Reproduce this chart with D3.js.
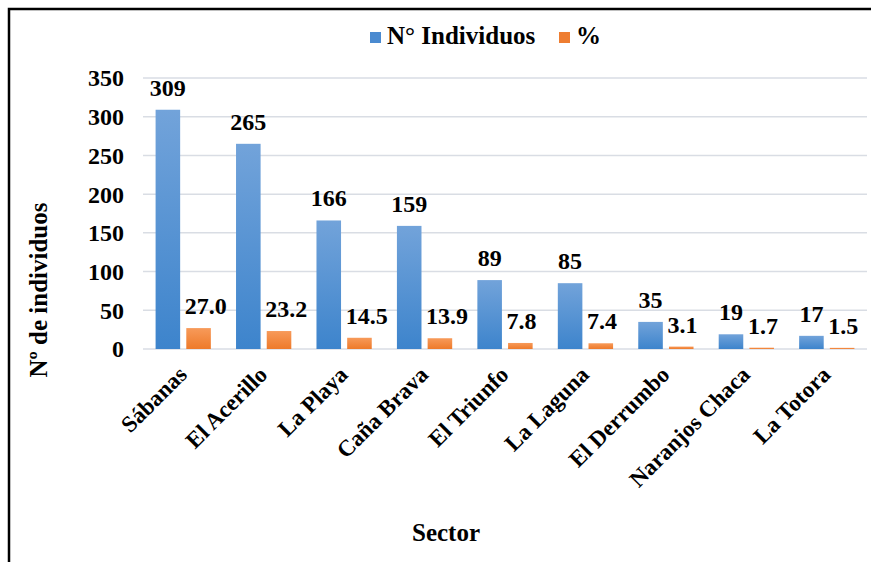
<!DOCTYPE html>
<html>
<head>
<meta charset="utf-8">
<script src="https://cdn.jsdelivr.net/npm/d3@7"></script>
<style>
    body { margin: 0; background: #fff; }
    text { font-family: "Liberation Serif", "Times New Roman", serif; font-weight: bold; fill: #000; }
</style>
</head>
<body>
<svg id="chart"></svg>
<script>
// Data
var sectors = ["Sábanas", "El Acerillo", "La Playa", "Caña Brava", "El Triunfo",
    "La Laguna", "El Derrumbo", "Naranjos Chaca", "La Totora"];
var individuos = [309, 265, 166, 159, 89, 85, 35, 19, 17];
var porcentaje = [27.0, 23.2, 14.5, 13.9, 7.8, 7.4, 3.1, 1.7, 1.5];
var yTicks = [0, 50, 100, 150, 200, 250, 300, 350];
var seriesNames = ["N° Individuos", "%"];

var width = 871,
    height = 562;

var svg = d3.select("#chart")
    .attr("width", width)
    .attr("height", height);

// Gradients for the bars
var defs = svg.append("defs");
function addGradient(id, top, bottom) {
    var g = defs.append("linearGradient")
        .attr("id", id)
        .attr("x1", 0).attr("y1", 0)
        .attr("x2", 0).attr("y2", 1);
    g.append("stop").attr("offset", "0%").attr("stop-color", top);
    g.append("stop").attr("offset", "100%").attr("stop-color", bottom);
}
addGradient("gradBlue", "#72a3da", "#3d84cc");
addGradient("gradOrange", "#f79a5a", "#ee7a2a");

// Frame
svg.append("path")
    .attr("d", "M9," + height + " L9,9 L" + width + ",9")
    .attr("fill", "none")
    .attr("stroke", "#000")
    .attr("stroke-width", 2.5);

// Scales
var x = d3.scaleBand()
    .domain(sectors)
    .range([143, 867]);

var y = d3.scaleLinear()
    .domain([0, 350])
    .range([349, 78]);

var inner = d3.scaleBand()
    .domain(["a", "b"])
    .range([0, x.bandwidth()])
    .paddingInner(0.2)
    .paddingOuter(0.41);

// Gridlines
svg.append("g")
    .selectAll("line")
    .data(yTicks)
    .enter().append("line")
    .attr("x1", 143)
    .attr("x2", 867)
    .attr("y1", function (d) { return y(d); })
    .attr("y2", function (d) { return y(d); })
    .attr("stroke", "#d9dde4")
    .attr("stroke-width", 1.5);

// Y tick labels
svg.append("g")
    .selectAll("text")
    .data(yTicks)
    .enter().append("text")
    .attr("x", 124)
    .attr("y", function (d) { return y(d); })
    .attr("dy", "0.35em")
    .style("text-anchor", "end")
    .style("font-size", "24px")
    .text(function (d) { return d; });

// Bars
var groups = svg.append("g")
    .selectAll("g")
    .data(sectors)
    .enter().append("g")
    .attr("transform", function (d) { return "translate(" + x(d) + ",0)"; });

groups.append("rect")
    .attr("x", inner("a"))
    .attr("width", inner.bandwidth())
    .attr("y", function (d, i) { return y(individuos[i]); })
    .attr("height", function (d, i) { return y(0) - y(individuos[i]); })
    .attr("fill", "url(#gradBlue)");

groups.append("rect")
    .attr("x", inner("b"))
    .attr("width", inner.bandwidth())
    .attr("y", function (d, i) { return y(porcentaje[i]); })
    .attr("height", function (d, i) { return y(0) - y(porcentaje[i]); })
    .attr("fill", "url(#gradOrange)");

// Value labels
groups.append("text")
    .attr("x", inner("a") + inner.bandwidth() / 2)
    .attr("y", function (d, i) { return y(individuos[i]) - 14; })
    .style("text-anchor", "middle")
    .style("font-size", "24px")
    .text(function (d, i) { return individuos[i]; });

groups.append("text")
    .attr("x", inner("b") - 1.5)
    .attr("y", function (d, i) { return y(porcentaje[i]) - 14; })
    .style("text-anchor", "start")
    .style("font-size", "24px")
    .text(function (d, i) { return porcentaje[i].toFixed(1); });

// Category labels, rotated
svg.append("g")
    .selectAll("text")
    .data(sectors)
    .enter().append("text")
    .attr("transform", function (d) {
        return "translate(" + (x(d) + x.bandwidth() / 2 + 5) + ",376) rotate(-45)";
    })
    .style("text-anchor", "end")
    .style("font-size", "23px")
    .text(function (d) { return d; });

// Axis titles
svg.append("text")
    .attr("transform", "translate(47,290) rotate(-90)")
    .style("text-anchor", "middle")
    .style("font-size", "25px")
    .text("Nº de individuos");

svg.append("text")
    .attr("x", 446)
    .attr("y", 541)
    .style("text-anchor", "middle")
    .style("font-size", "25px")
    .text("Sector");

// Legend
var legend = svg.append("g");
var legendItems = [
    { name: seriesNames[0], fill: "#4a8ad0", x: 370 },
    { name: seriesNames[1], fill: "#ee7d31", x: 559 }
];
legendItems.forEach(function (item) {
    legend.append("rect")
        .attr("x", item.x)
        .attr("y", 32)
        .attr("width", 11)
        .attr("height", 11)
        .attr("fill", item.fill);
    legend.append("text")
        .attr("x", item.x + 17)
        .attr("y", 44)
        .style("font-size", "25px")
        .text(item.name);
});
</script>
</body>
</html>
